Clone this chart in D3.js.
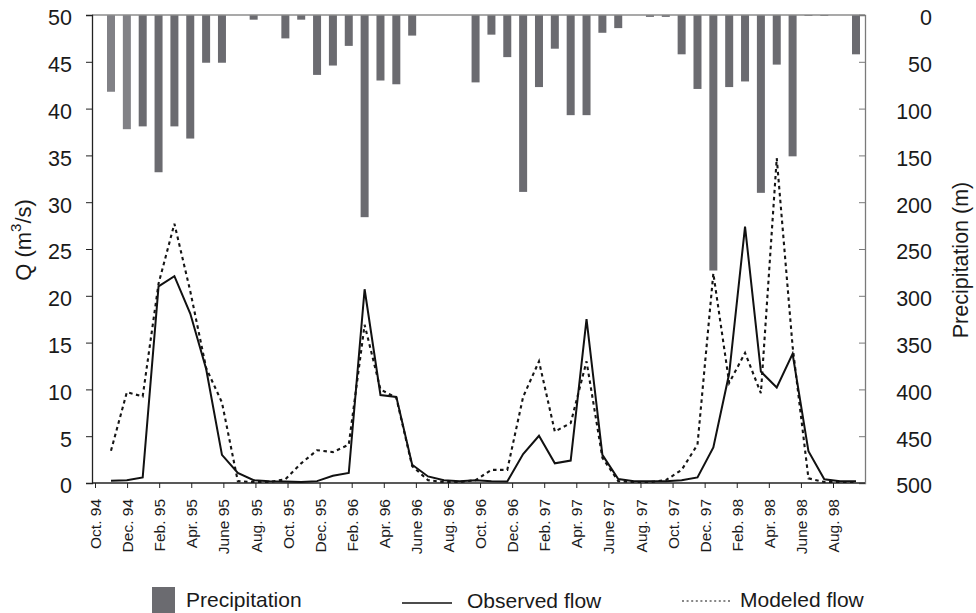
<!DOCTYPE html>
<html>
<head>
<meta charset="utf-8">
<script src="https://cdn.jsdelivr.net/npm/d3@7"></script>
<style>
  html, body { margin: 0; padding: 0; background: #fff; }
  svg { display: block; font-family: "Liberation Sans", Arial, Helvetica, sans-serif; }
</style>
</head>
<body>
<svg id="chart" width="976" height="613"></svg>
<script>
// ---- data (monthly, Oct 1994 – Sep 1998) ----
const tickLabels = ["Oct. 94","Dec. 94","Feb. 95","Apr. 95","June 95","Aug. 95","Oct. 95","Dec. 95",
  "Feb. 96","Apr. 96","June 96","Aug. 96","Oct. 96","Dec. 96","Feb. 97","Apr. 97","June 97","Aug. 97",
  "Oct. 97","Dec. 97","Feb. 98","Apr. 98","June 98","Aug. 98"];

const precipitation = [82,122,119,168,119,132,51,51,0,5,0,25,5,64,54,33,216,70,74,22,0,0,0,72,
  21,45,189,77,36,107,107,19,14,0,2,2,42,79,273,77,71,190,53,151,1,1,0,42];

const observedFlow = [0.25,0.3,0.6,21.0,22.1,18.1,12.2,3.0,1.07,0.3,0.2,0.15,0.1,0.2,0.78,1.07,
  20.7,9.4,9.2,1.95,0.7,0.3,0.2,0.3,0.2,0.15,3.1,5.05,2.1,2.4,17.5,3.0,0.43,0.2,0.2,0.2,
  0.3,0.6,3.8,11.7,27.4,11.9,10.2,13.8,3.4,0.4,0.2,0.2];

const modeledFlow = [3.45,9.7,9.25,21.3,27.7,20.5,12.3,8.6,0.2,0.1,0.1,0.4,2.1,3.5,3.3,4.1,
  16.9,10.0,9.1,1.8,0.3,0.1,0.1,0.3,1.4,1.4,9.2,13.0,5.5,6.4,13.0,2.7,0.2,0.1,0.1,0.3,
  1.4,4.1,22.4,10.7,13.9,9.6,34.7,14.6,0.5,0.1,0.1,0.1];

const qTicks = [0,5,10,15,20,25,30,35,40,45,50];
const pTicks = [0,50,100,150,200,250,300,350,400,450,500];

// ---- layout ----
const L = 92, R = 865, T = 15, B = 483;
const svg = d3.select("#chart");

const xData = d3.scaleLinear().domain([0, precipitation.length - 1]).range([111, 856]);
const xLab = d3.scaleLinear().domain([0, 46]).range([95, 833]);
const yQ = d3.scaleLinear().domain([0, 50]).range([B, T]);
const yP = d3.scaleLinear().domain([0, 500]).range([T, B]);

// bars (precipitation, hanging from top)
svg.append("g").selectAll("rect").data(precipitation).join("rect")
  .attr("x", (d, i) => xData(i) - 4)
  .attr("y", yP(0))
  .attr("width", 8)
  .attr("height", d => yP(d) - yP(0))
  .attr("fill", (d, i) => i < 2 ? "#818186" : "#6b6b70");

// top frame line
svg.append("line").attr("x1", L).attr("x2", R).attr("y1", yP(0)).attr("y2", yP(0))
  .attr("stroke", "#8c8c8c").attr("stroke-width", 1.6);

// left axis
const gL = svg.append("g").attr("transform", `translate(${L},0)`)
  .call(d3.axisLeft(yQ).tickValues(qTicks).tickSize(6).tickPadding(14));
gL.select(".domain").attr("stroke", "#222").attr("stroke-width", 1.3);
gL.selectAll(".tick line").attr("stroke", "#222");
gL.selectAll("text").attr("font-size", 21.5).attr("fill", "#1a1a1a")
  .attr("font-family", "Liberation Sans, Arial, sans-serif").attr("dy", "0.46em");

// right axis (precipitation)
const gR = svg.append("g").attr("transform", `translate(${R},0)`)
  .call(d3.axisRight(yP).tickValues(pTicks).tickSize(-6));
gR.select(".domain").attr("stroke", "#7a7a7a").attr("stroke-width", 1.3);
gR.selectAll(".tick line").attr("stroke", "#7a7a7a");
gR.selectAll("text").attr("font-size", 21.5).attr("fill", "#1a1a1a")
  .attr("font-family", "Liberation Sans, Arial, sans-serif")
  .attr("text-anchor", "end").attr("x", 67).attr("dy", "0.46em");

// bottom axis
const gB = svg.append("g").attr("transform", `translate(0,${B})`)
  .call(d3.axisBottom(xLab).tickValues(tickLabels.map((d, k) => 2 * k))
    .tickFormat(v => tickLabels[v / 2]).tickSize(5));
gB.select(".domain").remove();
gB.selectAll(".tick line").attr("stroke", "#222");
gB.selectAll("text").attr("font-size", 15.5).attr("fill", "#1a1a1a")
  .attr("font-family", "Liberation Sans, Arial, sans-serif")
  .attr("transform", "rotate(-90)").attr("x", -16).attr("y", 0).attr("dy", "0.36em")
  .attr("text-anchor", "end");
svg.append("line").attr("x1", L).attr("x2", R).attr("y1", B).attr("y2", B)
  .attr("stroke", "#222").attr("stroke-width", 1.4);

// lines
const lineQ = d3.line().x((d, i) => xData(i)).y(d => yQ(d));
svg.append("path").datum(modeledFlow).attr("d", lineQ)
  .attr("fill", "none").attr("stroke", "#151515").attr("stroke-width", 2.1)
  .attr("stroke-dasharray", "3.5,3.5");
svg.append("path").datum(observedFlow).attr("d", lineQ)
  .attr("fill", "none").attr("stroke", "#111").attr("stroke-width", 2)
  .attr("stroke-linejoin", "miter");

// axis titles
const tq = svg.append("text").attr("transform", "translate(31,240) rotate(-90)")
  .attr("text-anchor", "middle").attr("font-size", 22).attr("fill", "#1a1a1a");
tq.append("tspan").text("Q (m");
tq.append("tspan").attr("font-size", 15).attr("dy", "-0.7em").text("3");
tq.append("tspan").attr("dy", "0.47em").text("/s)");

svg.append("text").attr("transform", "translate(968,260) rotate(-90)")
  .attr("text-anchor", "middle").attr("font-size", 21.5).attr("fill", "#1a1a1a")
  .text("Precipitation (m)");

// legend
const lg = svg.append("g");
lg.append("rect").attr("x", 152).attr("y", 587).attr("width", 23).attr("height", 26).attr("fill", "#6b6b70");
lg.append("text").attr("x", 186).attr("y", 607).attr("font-size", 21).attr("fill", "#1a1a1a").text("Precipitation");
lg.append("line").attr("x1", 402).attr("x2", 452).attr("y1", 603).attr("y2", 603)
  .attr("stroke", "#111").attr("stroke-width", 1.5);
lg.append("text").attr("x", 467).attr("y", 608).attr("font-size", 21).attr("fill", "#1a1a1a").text("Observed flow");
lg.append("line").attr("x1", 682).attr("x2", 732).attr("y1", 601).attr("y2", 601)
  .attr("stroke", "#111").attr("stroke-width", 1.2).attr("stroke-dasharray", "2,2.6");
lg.append("text").attr("x", 740).attr("y", 607).attr("font-size", 21).attr("fill", "#1a1a1a").text("Modeled flow");
</script>
</body>
</html>
